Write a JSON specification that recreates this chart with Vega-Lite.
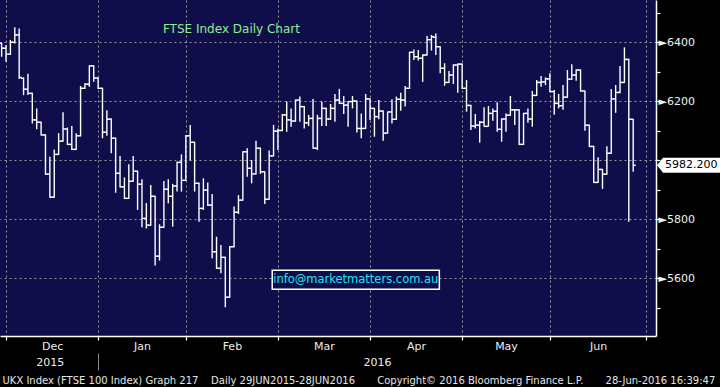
{
  "$schema": "https://vega.github.io/schema/vega-lite/v6.json",
  "width": 656,
  "height": 336,
  "autosize": {"type": "none"},
  "padding": {"left": 0, "top": 0, "right": 64, "bottom": 51},
  "background": "#000000",
  "view": {"fill": "#100e4a", "stroke": null},
  "config": {"font": "DejaVu Sans"},
  "datasets": {
    "ohlc": [
      {"i": -1, "date": "2015-11-27", "o": 6396, "h": 6398, "l": 6350, "c": 6379},
      {"i": 0, "date": "2015-11-30", "o": 6379, "h": 6390, "l": 6333, "c": 6359},
      {"i": 1, "date": "2015-12-01", "o": 6359, "h": 6407, "l": 6356, "c": 6399},
      {"i": 2, "date": "2015-12-02", "o": 6399, "h": 6450, "l": 6395, "c": 6424},
      {"i": 3, "date": "2015-12-03", "o": 6424, "h": 6446, "l": 6275, "c": 6280},
      {"i": 4, "date": "2015-12-04", "o": 6277, "h": 6280, "l": 6220, "c": 6240},
      {"i": 5, "date": "2015-12-07", "o": 6240, "h": 6292, "l": 6220, "c": 6226},
      {"i": 6, "date": "2015-12-08", "o": 6226, "h": 6228, "l": 6124, "c": 6136},
      {"i": 7, "date": "2015-12-09", "o": 6136, "h": 6175, "l": 6104, "c": 6128},
      {"i": 8, "date": "2015-12-10", "o": 6128, "h": 6130, "l": 6083, "c": 6085},
      {"i": 9, "date": "2015-12-11", "o": 6085, "h": 6087, "l": 5950, "c": 5952},
      {"i": 10, "date": "2015-12-14", "o": 5952, "h": 6011, "l": 5872, "c": 5874},
      {"i": 11, "date": "2015-12-15", "o": 5874, "h": 6036, "l": 5872, "c": 6019},
      {"i": 12, "date": "2015-12-16", "o": 6019, "h": 6091, "l": 6017, "c": 6064},
      {"i": 13, "date": "2015-12-17", "o": 6064, "h": 6162, "l": 6062, "c": 6105},
      {"i": 14, "date": "2015-12-18", "o": 6105, "h": 6110, "l": 6051, "c": 6053},
      {"i": 15, "date": "2015-12-21", "o": 6053, "h": 6115, "l": 6034, "c": 6036},
      {"i": 16, "date": "2015-12-22", "o": 6036, "h": 6091, "l": 6034, "c": 6082},
      {"i": 17, "date": "2015-12-23", "o": 6082, "h": 6251, "l": 6080, "c": 6243},
      {"i": 18, "date": "2015-12-24", "o": 6243, "h": 6260, "l": 6241, "c": 6257},
      {"i": 19, "date": "2015-12-29", "o": 6257, "h": 6321, "l": 6248, "c": 6319},
      {"i": 20, "date": "2015-12-30", "o": 6319, "h": 6321, "l": 6265, "c": 6278},
      {"i": 21, "date": "2015-12-31", "o": 6278, "h": 6280, "l": 6241, "c": 6243},
      {"i": 22, "date": "2016-01-04", "o": 6243, "h": 6245, "l": 6074, "c": 6094},
      {"i": 23, "date": "2016-01-05", "o": 6094, "h": 6169, "l": 6082, "c": 6138},
      {"i": 24, "date": "2016-01-06", "o": 6139, "h": 6141, "l": 6023, "c": 6074},
      {"i": 25, "date": "2016-01-07", "o": 6074, "h": 6076, "l": 5889, "c": 5955},
      {"i": 26, "date": "2016-01-08", "o": 5955, "h": 6014, "l": 5907, "c": 5909},
      {"i": 27, "date": "2016-01-11", "o": 5909, "h": 5941, "l": 5868, "c": 5870},
      {"i": 28, "date": "2016-01-12", "o": 5870, "h": 5986, "l": 5868, "c": 5928},
      {"i": 29, "date": "2016-01-13", "o": 5928, "h": 6014, "l": 5926, "c": 5962},
      {"i": 30, "date": "2016-01-14", "o": 5962, "h": 5964, "l": 5831, "c": 5918},
      {"i": 31, "date": "2016-01-15", "o": 5918, "h": 5935, "l": 5772, "c": 5802},
      {"i": 32, "date": "2016-01-18", "o": 5802, "h": 5854, "l": 5768, "c": 5779},
      {"i": 33, "date": "2016-01-19", "o": 5779, "h": 5915, "l": 5777, "c": 5877},
      {"i": 34, "date": "2016-01-20", "o": 5877, "h": 5879, "l": 5642, "c": 5674},
      {"i": 35, "date": "2016-01-21", "o": 5674, "h": 5782, "l": 5659, "c": 5772},
      {"i": 36, "date": "2016-01-22", "o": 5772, "h": 5929, "l": 5770, "c": 5901},
      {"i": 37, "date": "2016-01-25", "o": 5901, "h": 5935, "l": 5853, "c": 5877},
      {"i": 38, "date": "2016-01-26", "o": 5877, "h": 5919, "l": 5774, "c": 5912},
      {"i": 39, "date": "2016-01-27", "o": 5912, "h": 5994, "l": 5893, "c": 5992},
      {"i": 40, "date": "2016-01-28", "o": 5992, "h": 6019, "l": 5893, "c": 5931},
      {"i": 41, "date": "2016-01-29", "o": 5931, "h": 6085, "l": 5929, "c": 6082},
      {"i": 42, "date": "2016-02-01", "o": 6082, "h": 6119, "l": 5998, "c": 6060},
      {"i": 43, "date": "2016-02-02", "o": 6060, "h": 6062, "l": 5893, "c": 5921},
      {"i": 44, "date": "2016-02-03", "o": 5921, "h": 5924, "l": 5791, "c": 5836},
      {"i": 45, "date": "2016-02-04", "o": 5836, "h": 5938, "l": 5831, "c": 5898},
      {"i": 46, "date": "2016-02-05", "o": 5898, "h": 5924, "l": 5844, "c": 5847},
      {"i": 47, "date": "2016-02-08", "o": 5847, "h": 5885, "l": 5667, "c": 5689},
      {"i": 48, "date": "2016-02-09", "o": 5689, "h": 5740, "l": 5631, "c": 5633},
      {"i": 49, "date": "2016-02-10", "o": 5633, "h": 5712, "l": 5616, "c": 5670},
      {"i": 50, "date": "2016-02-11", "o": 5670, "h": 5672, "l": 5501, "c": 5535},
      {"i": 51, "date": "2016-02-12", "o": 5535, "h": 5708, "l": 5533, "c": 5706},
      {"i": 52, "date": "2016-02-15", "o": 5706, "h": 5842, "l": 5704, "c": 5823},
      {"i": 53, "date": "2016-02-16", "o": 5823, "h": 5881, "l": 5817, "c": 5864},
      {"i": 54, "date": "2016-02-17", "o": 5864, "h": 6030, "l": 5862, "c": 6028},
      {"i": 55, "date": "2016-02-18", "o": 6028, "h": 6040, "l": 5943, "c": 5972},
      {"i": 56, "date": "2016-02-19", "o": 5972, "h": 6000, "l": 5921, "c": 5953},
      {"i": 57, "date": "2016-02-22", "o": 5953, "h": 6065, "l": 5951, "c": 6040},
      {"i": 58, "date": "2016-02-23", "o": 6040, "h": 6042, "l": 5953, "c": 5960},
      {"i": 59, "date": "2016-02-24", "o": 5960, "h": 5962, "l": 5851, "c": 5867},
      {"i": 60, "date": "2016-02-25", "o": 5867, "h": 6032, "l": 5865, "c": 6014},
      {"i": 61, "date": "2016-02-26", "o": 6014, "h": 6119, "l": 6012, "c": 6098},
      {"i": 62, "date": "2016-02-29", "o": 6098, "h": 6107, "l": 6034, "c": 6100},
      {"i": 63, "date": "2016-03-01", "o": 6100, "h": 6156, "l": 6098, "c": 6153},
      {"i": 64, "date": "2016-03-02", "o": 6153, "h": 6198, "l": 6096, "c": 6136},
      {"i": 65, "date": "2016-03-03", "o": 6136, "h": 6175, "l": 6113, "c": 6132},
      {"i": 66, "date": "2016-03-04", "o": 6132, "h": 6205, "l": 6130, "c": 6203},
      {"i": 67, "date": "2016-03-07", "o": 6203, "h": 6215, "l": 6130, "c": 6181},
      {"i": 68, "date": "2016-03-08", "o": 6181, "h": 6183, "l": 6107, "c": 6126},
      {"i": 69, "date": "2016-03-09", "o": 6126, "h": 6153, "l": 6115, "c": 6141},
      {"i": 70, "date": "2016-03-10", "o": 6141, "h": 6207, "l": 6038, "c": 6040},
      {"i": 71, "date": "2016-03-11", "o": 6040, "h": 6153, "l": 6034, "c": 6141},
      {"i": 72, "date": "2016-03-14", "o": 6141, "h": 6198, "l": 6115, "c": 6175},
      {"i": 73, "date": "2016-03-15", "o": 6175, "h": 6177, "l": 6115, "c": 6139},
      {"i": 74, "date": "2016-03-16", "o": 6139, "h": 6190, "l": 6136, "c": 6175},
      {"i": 75, "date": "2016-03-17", "o": 6175, "h": 6224, "l": 6130, "c": 6203},
      {"i": 76, "date": "2016-03-18", "o": 6203, "h": 6241, "l": 6190, "c": 6192},
      {"i": 77, "date": "2016-03-21", "o": 6192, "h": 6217, "l": 6156, "c": 6186},
      {"i": 78, "date": "2016-03-22", "o": 6186, "h": 6200, "l": 6113, "c": 6198},
      {"i": 79, "date": "2016-03-23", "o": 6198, "h": 6217, "l": 6175, "c": 6200},
      {"i": 80, "date": "2016-03-24", "o": 6200, "h": 6202, "l": 6093, "c": 6107},
      {"i": 81, "date": "2016-03-29", "o": 6107, "h": 6158, "l": 6074, "c": 6107},
      {"i": 82, "date": "2016-03-30", "o": 6107, "h": 6224, "l": 6105, "c": 6207},
      {"i": 83, "date": "2016-03-31", "o": 6207, "h": 6209, "l": 6136, "c": 6175},
      {"i": 84, "date": "2016-04-01", "o": 6175, "h": 6177, "l": 6079, "c": 6147},
      {"i": 85, "date": "2016-04-04", "o": 6147, "h": 6203, "l": 6138, "c": 6166},
      {"i": 86, "date": "2016-04-05", "o": 6166, "h": 6168, "l": 6065, "c": 6091},
      {"i": 87, "date": "2016-04-06", "o": 6091, "h": 6164, "l": 6089, "c": 6163},
      {"i": 88, "date": "2016-04-07", "o": 6163, "h": 6206, "l": 6124, "c": 6138},
      {"i": 89, "date": "2016-04-08", "o": 6138, "h": 6215, "l": 6136, "c": 6206},
      {"i": 90, "date": "2016-04-11", "o": 6206, "h": 6228, "l": 6167, "c": 6203},
      {"i": 91, "date": "2016-04-12", "o": 6203, "h": 6251, "l": 6181, "c": 6243},
      {"i": 92, "date": "2016-04-13", "o": 6243, "h": 6367, "l": 6241, "c": 6365},
      {"i": 93, "date": "2016-04-14", "o": 6365, "h": 6375, "l": 6339, "c": 6350},
      {"i": 94, "date": "2016-04-15", "o": 6350, "h": 6373, "l": 6337, "c": 6345},
      {"i": 95, "date": "2016-04-18", "o": 6345, "h": 6358, "l": 6265, "c": 6356},
      {"i": 96, "date": "2016-04-19", "o": 6356, "h": 6420, "l": 6354, "c": 6408},
      {"i": 97, "date": "2016-04-20", "o": 6408, "h": 6424, "l": 6371, "c": 6418},
      {"i": 98, "date": "2016-04-21", "o": 6416, "h": 6429, "l": 6356, "c": 6384},
      {"i": 99, "date": "2016-04-22", "o": 6384, "h": 6386, "l": 6294, "c": 6311},
      {"i": 100, "date": "2016-04-25", "o": 6311, "h": 6328, "l": 6252, "c": 6263},
      {"i": 101, "date": "2016-04-26", "o": 6263, "h": 6302, "l": 6261, "c": 6288},
      {"i": 102, "date": "2016-04-27", "o": 6288, "h": 6324, "l": 6258, "c": 6322},
      {"i": 103, "date": "2016-04-28", "o": 6322, "h": 6327, "l": 6228, "c": 6325},
      {"i": 104, "date": "2016-04-29", "o": 6325, "h": 6327, "l": 6241, "c": 6243},
      {"i": 105, "date": "2016-05-03", "o": 6243, "h": 6271, "l": 6164, "c": 6185},
      {"i": 106, "date": "2016-05-04", "o": 6185, "h": 6187, "l": 6102, "c": 6115},
      {"i": 107, "date": "2016-05-05", "o": 6115, "h": 6156, "l": 6107, "c": 6118},
      {"i": 108, "date": "2016-05-06", "o": 6118, "h": 6132, "l": 6059, "c": 6128},
      {"i": 109, "date": "2016-05-09", "o": 6128, "h": 6179, "l": 6113, "c": 6114},
      {"i": 110, "date": "2016-05-10", "o": 6114, "h": 6183, "l": 6113, "c": 6158},
      {"i": 111, "date": "2016-05-11", "o": 6158, "h": 6175, "l": 6133, "c": 6165},
      {"i": 112, "date": "2016-05-12", "o": 6165, "h": 6196, "l": 6096, "c": 6104},
      {"i": 113, "date": "2016-05-13", "o": 6104, "h": 6141, "l": 6062, "c": 6139},
      {"i": 114, "date": "2016-05-16", "o": 6139, "h": 6158, "l": 6096, "c": 6152},
      {"i": 115, "date": "2016-05-17", "o": 6152, "h": 6217, "l": 6150, "c": 6170},
      {"i": 116, "date": "2016-05-18", "o": 6170, "h": 6172, "l": 6119, "c": 6170},
      {"i": 117, "date": "2016-05-19", "o": 6170, "h": 6172, "l": 6051, "c": 6053},
      {"i": 118, "date": "2016-05-20", "o": 6053, "h": 6160, "l": 6051, "c": 6158},
      {"i": 119, "date": "2016-05-23", "o": 6158, "h": 6175, "l": 6126, "c": 6139},
      {"i": 120, "date": "2016-05-24", "o": 6139, "h": 6234, "l": 6113, "c": 6219},
      {"i": 121, "date": "2016-05-25", "o": 6219, "h": 6271, "l": 6217, "c": 6263},
      {"i": 122, "date": "2016-05-26", "o": 6263, "h": 6285, "l": 6248, "c": 6265},
      {"i": 123, "date": "2016-05-27", "o": 6265, "h": 6280, "l": 6254, "c": 6275},
      {"i": 124, "date": "2016-05-31", "o": 6275, "h": 6294, "l": 6230, "c": 6232},
      {"i": 125, "date": "2016-06-01", "o": 6232, "h": 6237, "l": 6153, "c": 6192},
      {"i": 126, "date": "2016-06-02", "o": 6192, "h": 6224, "l": 6175, "c": 6184},
      {"i": 127, "date": "2016-06-03", "o": 6184, "h": 6254, "l": 6170, "c": 6213},
      {"i": 128, "date": "2016-06-06", "o": 6213, "h": 6305, "l": 6211, "c": 6274},
      {"i": 129, "date": "2016-06-07", "o": 6274, "h": 6325, "l": 6271, "c": 6288},
      {"i": 130, "date": "2016-06-08", "o": 6288, "h": 6308, "l": 6269, "c": 6305},
      {"i": 131, "date": "2016-06-09", "o": 6305, "h": 6307, "l": 6232, "c": 6234},
      {"i": 132, "date": "2016-06-10", "o": 6234, "h": 6236, "l": 6099, "c": 6118},
      {"i": 133, "date": "2016-06-13", "o": 6118, "h": 6120, "l": 6044, "c": 6046},
      {"i": 134, "date": "2016-06-14", "o": 6046, "h": 6048, "l": 5922, "c": 5924},
      {"i": 135, "date": "2016-06-15", "o": 5924, "h": 6009, "l": 5922, "c": 5968},
      {"i": 136, "date": "2016-06-16", "o": 5968, "h": 5970, "l": 5902, "c": 5952},
      {"i": 137, "date": "2016-06-17", "o": 5952, "h": 6047, "l": 5950, "c": 6023},
      {"i": 138, "date": "2016-06-20", "o": 6023, "h": 6241, "l": 6021, "c": 6207},
      {"i": 139, "date": "2016-06-21", "o": 6207, "h": 6254, "l": 6160, "c": 6229},
      {"i": 140, "date": "2016-06-22", "o": 6229, "h": 6319, "l": 6226, "c": 6263},
      {"i": 141, "date": "2016-06-23", "o": 6263, "h": 6382, "l": 6261, "c": 6341},
      {"i": 142, "date": "2016-06-24", "o": 6341, "h": 6343, "l": 5791, "c": 6138},
      {"i": 143, "date": "2016-06-27", "o": 6138, "h": 6140, "l": 5960, "c": 5982.2}
    ]
  },
  "resolve": {"axis": {"x": "independent", "y": "independent"}},
  "layer": [
    {
      "data": {"name": "ohlc"},
      "mark": {"type": "rule", "color": "#ffffff", "strokeWidth": 1.4},
      "encoding": {
        "x": {
          "field": "i", "type": "quantitative",
          "scale": {"domain": [-1.37, 148.2], "nice": false, "zero": false},
          "axis": {
            "orient": "bottom", "title": null,
            "values": [0, 21, 41, 62, 83, 104, 124, 146],
            "labels": false,
            "tickSize": 4, "tickColor": "#ffffff", "tickWidth": 1.2,
            "domainColor": "#ffffff", "domainWidth": 1.5,
            "grid": true, "gridColor": "#9a9a9a", "gridDash": [2, 3], "gridWidth": 1
          }
        },
        "y": {
          "field": "l", "type": "quantitative", "title": null,
          "scale": {"domain": [5403.4, 6542.4], "nice": false, "zero": false},
          "axis": {
            "orient": "right", "title": null,
            "values": [5600, 5800, 6000, 6200, 6400],
            "labelExpr": "datum.value == 6000 ? '' : '►' + datum.value",
            "labelColor": "#f2f2f2", "labelFontSize": 11, "labelPadding": -2,
            "labelBaseline": "middle", "labelFont": "DejaVu Sans", "labelOverlap": false,
            "tickSize": 4, "tickColor": "#ffffff", "tickWidth": 1.2,
            "domainColor": "#ffffff", "domainWidth": 1.5,
            "grid": true, "gridColor": "#9a9a9a", "gridDash": [2, 3], "gridWidth": 1
          }
        },
        "y2": {"field": "h"}
      }
    },
    {
      "data": {"name": "ohlc"},
      "mark": {"type": "tick", "orient": "horizontal", "color": "#ffffff", "opacity": 1, "size": 2.6, "thickness": 1.4, "xOffset": -1.3},
      "encoding": {
        "x": {
          "field": "i", "type": "quantitative",
          "axis": {
            "orient": "bottom", "title": null,
            "values": [10.5, 31, 51.5, 72.5, 93.5, 114, 135],
            "labelExpr": "datum.value < 20 ? 'Dec' : datum.value < 40 ? 'Jan' : datum.value < 60 ? 'Feb' : datum.value < 80 ? 'Mar' : datum.value < 100 ? 'Apr' : datum.value < 120 ? 'May' : 'Jun'",
            "ticks": false, "domain": false, "grid": false,
            "labelPadding": 4, "labelColor": "#ececec", "labelFontSize": 11,
            "labelFont": "DejaVu Sans", "labelFlush": false, "labelOverlap": false
          }
        },
        "y": {
          "field": "o", "type": "quantitative", "title": null,
          "axis": {
            "orient": "right", "title": null,
            "values": [5500, 5700, 5900, 6100, 6300, 6500],
            "labels": false, "grid": false, "domain": false,
            "tickSize": 4, "tickColor": "#ffffff", "tickWidth": 1.2
          }
        }
      }
    },
    {
      "data": {"name": "ohlc"},
      "mark": {"type": "tick", "orient": "horizontal", "color": "#ffffff", "opacity": 1, "size": 2.6, "thickness": 1.4, "xOffset": 1.3},
      "encoding": {
        "x": {
          "field": "i", "type": "quantitative",
          "axis": {
            "orient": "bottom", "offset": 17,
            "values": [10, 21, 84.6],
            "labelExpr": "datum.value == 21 ? '' : datum.value < 21 ? '2015' : '2016'",
            "tickSize": 17, "tickWidth": 1,
            "tickColor": {"condition": {"test": "datum.value == 21", "value": "#8a8a8a"}, "value": "transparent"},
            "domain": false, "grid": false,
            "labelPadding": -14, "labelColor": "#ececec", "labelFontSize": 11,
            "labelFont": "DejaVu Sans", "labelFlush": false, "labelOverlap": false,
            "title": "UKX Index (FTSE 100 Index) Graph 217\u00a0\u00a0\u00a0 Daily 29JUN2015-28JUN2016\u00a0\u00a0\u00a0\u00a0\u00a0\u00a0 Copyright© 2016 Bloomberg Finance L.P.\u00a0\u00a0\u00a0\u00a0\u00a0\u00a0 28-Jun-2016 16:39:47",
            "titleX": 2, "titleY": 30, "titleAlign": "left", "titleAnchor": "start",
            "titleBaseline": "alphabetic", "titleFont": "DejaVu Sans", "titleFontSize": 10,
            "titleFontWeight": "normal", "titleColor": "#e6e6e6"
          }
        },
        "y": {"field": "c", "type": "quantitative", "title": null, "axis": null}
      }
    },
    {
      "data": {"values": [{"i": 51.4, "p": 6444, "label": "FTSE Index Daily Chart"}]},
      "mark": {"type": "text", "color": "#90ee90", "fontSize": 12, "align": "center", "baseline": "middle", "font": "DejaVu Sans"},
      "encoding": {
        "x": {"field": "i", "type": "quantitative", "axis": null},
        "y": {"field": "p", "type": "quantitative", "axis": null},
        "text": {"field": "label"}
      }
    },
    {
      "data": {"values": [{"i1": 60.7, "i2": 98.8, "p1": 5626, "p2": 5562}]},
      "mark": {"type": "rect", "fill": "#100e4a", "stroke": "#ffffff", "strokeWidth": 1.5},
      "encoding": {
        "x": {"field": "i1", "type": "quantitative", "axis": null},
        "x2": {"field": "i2"},
        "y": {"field": "p1", "type": "quantitative", "axis": null},
        "y2": {"field": "p2"}
      }
    },
    {
      "data": {"values": [{"i": 79.75, "p": 5594, "label": "info@marketmatters.com.au"}]},
      "mark": {"type": "text", "color": "#1ee4f0", "fontSize": 11.5, "align": "center", "baseline": "middle", "font": "DejaVu Sans"},
      "encoding": {
        "x": {"field": "i", "type": "quantitative", "axis": null},
        "y": {"field": "p", "type": "quantitative", "axis": null},
        "text": {"field": "label"}
      }
    },
    {
      "data": {"values": [{"last": 5982.2, "label": "5982.200"}]},
      "mark": {"type": "point", "shape": "M1,0 L7,-7.5 L64,-7.5 L64,7.5 L7,7.5 Z", "size": 4, "filled": true, "fill": "#ffffff", "opacity": 1, "strokeWidth": 0},
      "encoding": {
        "x": {"value": "width"},
        "y": {"field": "last", "type": "quantitative", "axis": null}
      }
    },
    {
      "data": {"values": [{"last": 5982.2, "label": "5982.200"}]},
      "mark": {"type": "text", "color": "#000000", "fontSize": 11, "align": "left", "baseline": "middle", "dx": 9, "font": "DejaVu Sans"},
      "encoding": {
        "x": {"value": "width"},
        "y": {"field": "last", "type": "quantitative", "axis": null},
        "text": {"field": "label"}
      }
    }
  ]
}
